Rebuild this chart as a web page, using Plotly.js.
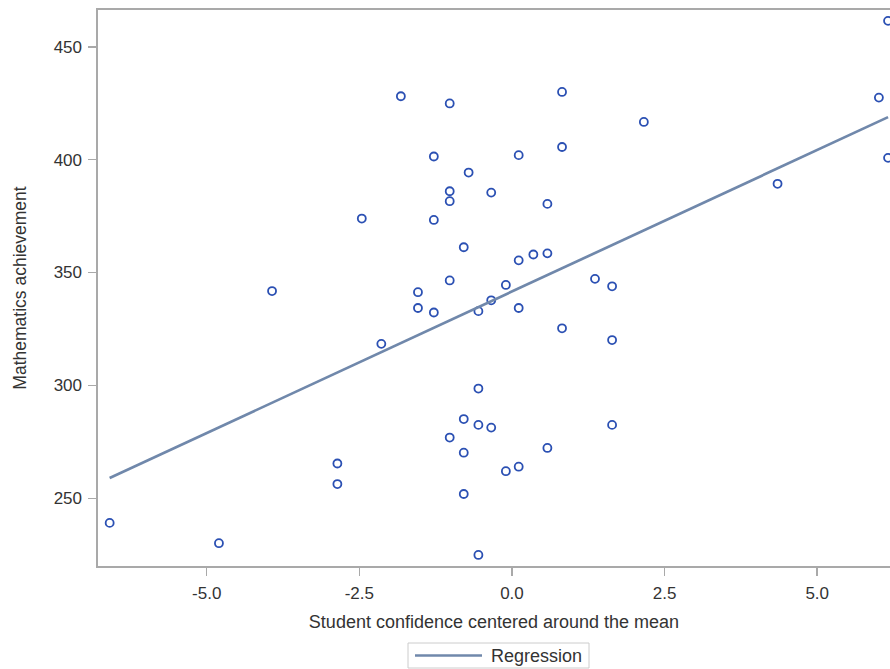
<!DOCTYPE html>
<html>
<head>
<meta charset="utf-8">
<script src="https://cdn.plot.ly/plotly-3.0.1.min.js"></script>
<style>
  html, body { margin: 0; padding: 0; background: #ffffff; }
  #chart { width: 890px; height: 669px; }
</style>
</head>
<body>
<div id="chart"></div>
<script>
// Student confidence (centered) and mathematics achievement, one entry per student
const confidence = [
  -1.82, -1.02, 0.82, -1.28, 0.11, 0.82, -0.71, -1.02, -1.02, -0.34,
  0.58, -2.46, -1.28, -0.79, 0.11, 0.35, 0.58, 1.36, -1.02, -1.54,
  -0.10, -0.34, -1.54, -1.28, -0.55, 0.11, 0.82, -2.14, -0.55, -0.79,
  -0.55, -0.34, -1.02, 0.58, -0.79, -2.86, 0.11, -0.10, -2.86, -0.79,
  -0.55, -6.59, -4.80, -3.93, 6.16, 6.01, 6.16, 2.16, 4.35, 1.64,
  1.64, 1.64
];
const achievement = [
  428.1, 424.9, 430.0, 401.4, 402.0, 405.6, 394.3, 386.0, 381.6, 385.4,
  380.4, 373.9, 373.3, 361.2, 355.4, 358.0, 358.5, 347.2, 346.5, 341.3,
  344.5, 337.7, 334.3, 332.3, 332.9, 334.3, 325.3, 318.4, 298.6, 285.1,
  282.5, 281.3, 276.9, 272.3, 270.2, 265.4, 264.0, 262.0, 256.3, 251.9,
  224.9, 239.1, 230.1, 341.8, 461.5, 427.5, 400.8, 416.7, 389.3, 343.9,
  320.1, 282.5
];

// Fitted regression: achievement = intercept + slope * confidence
const regIntercept = 341.6;
const regSlope = 12.54;

// Axis ticks
const xTickVals = [-5, -2.5, 0, 2.5, 5];
const xTickText = ['-5.0', '-2.5', '0.0', '2.5', '5.0'];
const yTickVals = [250, 300, 350, 400, 450];

const legendLabel = 'Regression';

const xMin = Math.min(...confidence);
const xMax = Math.max(...confidence);
const fitX = [xMin, xMax];
const fitY = fitX.map(v => regIntercept + regSlope * v);

const textColor = '#333333';
const frameColor = '#a9a9a9';
const fitColor = '#7088ab';
const fitWidth = 2.7;
const fontFamily = '"Liberation Sans", Arial, sans-serif';

const W = 890, H = 669;
const margin = { l: 98, r: 0, t: 10, b: 103 };
const plotW = W - margin.l - margin.r;
const plotH = H - margin.t - margin.b;
// pixel position on the page -> paper coordinates (used for the legend box below the axis)
const px = v => (v - margin.l) / plotW;
const py = v => (H - margin.b - v) / plotH;

const points = {
  x: confidence,
  y: achievement,
  type: 'scatter',
  mode: 'markers',
  name: 'Observed',
  showlegend: false,
  marker: {
    symbol: 'circle-open',
    size: 8,
    color: '#2b50b3',
    line: { width: 1.8, color: '#2b50b3' }
  },
  hoverinfo: 'x+y'
};

const fit = {
  x: fitX,
  y: fitY,
  type: 'scatter',
  mode: 'lines',
  name: legendLabel,
  showlegend: false,
  line: { color: fitColor, width: fitWidth },
  hoverinfo: 'skip'
};

// Legend box: framed key with a line sample and the series name
const legendBox = { x0: 408, x1: 589, y0: 643, y1: 668 };
const legendMidY = (legendBox.y0 + legendBox.y1) / 2;

const layout = {
  width: W,
  height: H,
  margin: margin,
  paper_bgcolor: '#ffffff',
  plot_bgcolor: '#ffffff',
  font: { family: fontFamily, size: 17, color: textColor },
  showlegend: false,
  xaxis: {
    range: [-6.781, 6.192],
    tickvals: xTickVals,
    ticktext: xTickText,
    ticks: 'outside',
    ticklen: 8,
    tickwidth: 1.5,
    tickcolor: frameColor,
    ticklabelstandoff: 3,
    showline: true,
    linecolor: frameColor,
    linewidth: 1.6,
    mirror: true,
    showgrid: false,
    zeroline: false,
    automargin: false,
    tickfont: { size: 17, color: textColor },
    title: {
      text: 'Student confidence centered around the mean',
      font: { size: 18, color: textColor },
      standoff: 13
    }
  },
  yaxis: {
    range: [220.0, 466.3],
    tickvals: yTickVals,
    ticks: 'outside',
    ticklen: 8,
    tickwidth: 1.5,
    tickcolor: frameColor,
    ticklabelstandoff: 3,
    showline: true,
    linecolor: frameColor,
    linewidth: 1.6,
    mirror: false,
    showgrid: false,
    zeroline: false,
    automargin: false,
    tickfont: { size: 17, color: textColor },
    title: {
      text: 'Mathematics achievement',
      font: { size: 17.5, color: textColor },
      standoff: 22
    }
  },
  shapes: [
    {
      type: 'rect', xref: 'paper', yref: 'paper',
      x0: px(legendBox.x0), x1: px(legendBox.x1),
      y0: py(legendBox.y1), y1: py(legendBox.y0),
      line: { color: '#cccccc', width: 1 },
      fillcolor: '#ffffff'
    },
    {
      type: 'line', xref: 'paper', yref: 'paper',
      x0: px(415), x1: px(482),
      y0: py(legendMidY), y1: py(legendMidY),
      line: { color: fitColor, width: fitWidth }
    }
  ],
  annotations: [
    {
      text: legendLabel,
      xref: 'paper', yref: 'paper',
      x: px(489), y: py(legendMidY),
      xanchor: 'left', yanchor: 'middle',
      showarrow: false,
      font: { size: 18, color: textColor }
    }
  ]
};

Plotly.newPlot('chart', [points, fit], layout, { displayModeBar: false, staticPlot: true });
</script>
</body>
</html>
